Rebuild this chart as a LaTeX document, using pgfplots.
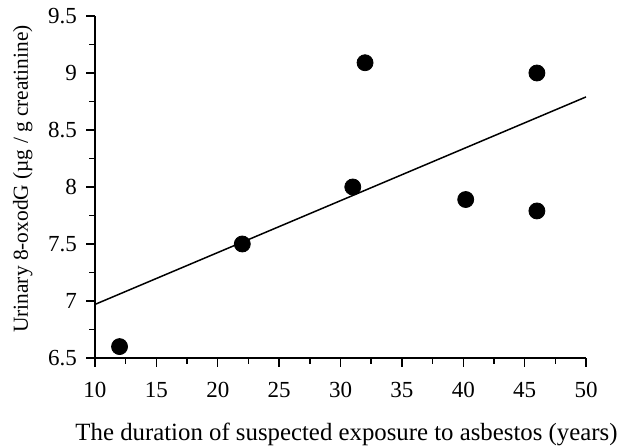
\documentclass[border=0pt]{standalone}
\usepackage{pgfplots}
\pgfplotsset{compat=1.18}
\usepackage{fontspec}
\setmainfont{Liberation Serif}
\begin{document}
\begin{tikzpicture}
\begin{axis}[
  scale only axis,
  width=245.5pt, height=171pt,
  xmin=10, xmax=50, ymin=6.5, ymax=9.5,
  axis x line*=bottom, axis y line*=left,
  axis line style={line width=0.9pt, -},
  xtick={10,15,...,50}, ytick={6.5,7,...,9.5},
  minor x tick num=1, minor y tick num=1,
  tick align=outside,
  major tick length=4.5pt, minor tick length=3pt,
  tick style={line width=0.7pt, black},
  /pgf/number format/assume math mode=true,
  ticklabel style={font=\fontsize{11.5}{13}\selectfont},
  xticklabel style={yshift=-4pt},
  yticklabel style={/pgf/number format/fixed, xshift=-1pt},
  xlabel={The duration of suspected exposure to asbestos (years)},
  ylabel={Urinary 8-oxodG (µg / g creatinine)},
  xlabel style={font=\fontsize{12.4}{14}\selectfont, yshift=-6pt, xshift=3pt},
  ylabel style={font=\fontsize{10.7}{12}\selectfont, yshift=1pt, xshift=4pt},
  clip=false,
]
\addplot[only marks, mark=*, mark size=4pt, black] coordinates {
  (12,6.6) (22,7.5) (31,8.0) (32,9.09) (40.2,7.89) (46,9.0) (46,7.79)
};
\addplot[black, line width=0.75pt] coordinates {(10,6.97) (50,8.79)};
\end{axis}
\pgfresetboundingbox
\path ([shift={(-47.5pt,-44pt)}]current axis.south west) rectangle ([shift={(18.5pt,8pt)}]current axis.north east);
\end{tikzpicture}
\end{document}
